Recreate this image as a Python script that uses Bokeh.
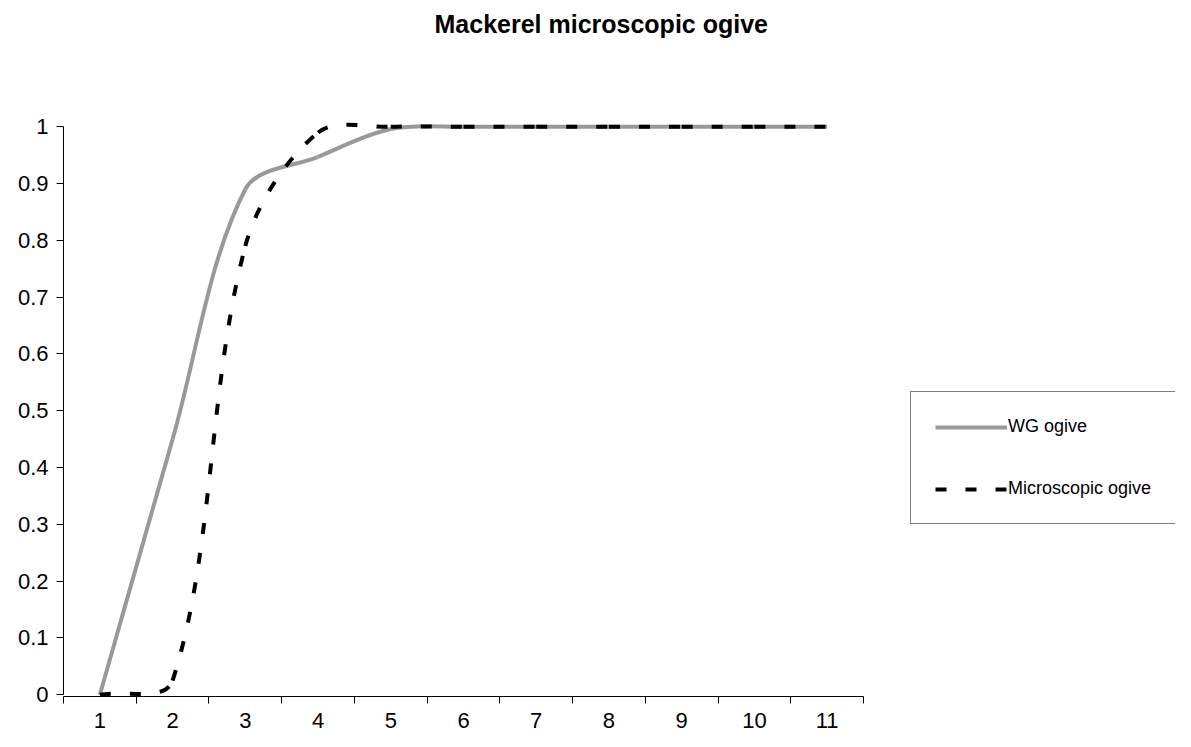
import math
from bokeh.plotting import figure
from bokeh.models import FixedTicker, Range1d, Legend, LegendItem, ColumnDataSource
from bokeh.embed import file_html
from bokeh.resources import INLINE

# ---------------- data ----------------
categories = [1, 2, 3, 4, 5, 6, 7, 8, 9, 10, 11]
wg_ogive = [0.0, 0.45, 0.89, 0.947, 0.996, 1.0, 1.0, 1.0, 1.0, 1.0, 1.0]
micro_ogive = [0.0, 0.025, 0.79, 0.99, 1.0, 1.0, 1.0, 1.0, 1.0, 1.0, 1.0]
y_ticks = [0, 0.1, 0.2, 0.3, 0.4, 0.5, 0.6, 0.7, 0.8, 0.9, 1]
y_tick_labels = ["0", "0.1", "0.2", "0.3", "0.4", "0.5", "0.6", "0.7", "0.8", "0.9", "1"]
title_text = "Mackerel microscopic ogive"
series_names = ["WG ogive", "Microscopic ogive"]

# ---------------- layout ----------------
W, H = 1175, 731
FL, FT = 63, 44                 # frame left / top (canvas px)
FB = 696                        # frame bottom
PX_PER_CAT = 800 / 11.0         # plot-area width of the Excel chart / categories
PX_PER_UNIT = 568.0             # px for y from 0 to 1
FW, FH = W - FL, FB - FT
X0 = categories[0] - 0.5
X1 = X0 + FW / PX_PER_CAT
Y0 = -0.003
Y1 = Y0 + FH / PX_PER_UNIT
SX, SY = PX_PER_CAT, PX_PER_UNIT
FONT = "Liberation Sans"


def smooth_segments(xs, ys):
    """Excel-like smoothed line: cubic Bezier pieces computed in screen space."""
    pts = [(x * SX, y * SY) for x, y in zip(xs, ys)]
    n = len(pts)
    out = {k: [] for k in ("x0", "y0", "x1", "y1", "cx0", "cy0", "cx1", "cy1")}
    d = lambda a, b: math.hypot(b[0] - a[0], b[1] - a[1])
    for i in range(n - 1):
        p1, p2 = pts[i], pts[i + 1]
        p0 = pts[i - 1] if i > 0 else p1
        p3 = pts[i + 2] if i + 2 < n else p2
        d01, d12, d23 = d(p0, p1), d(p1, p2), d(p2, p3)
        f1 = d12 / (d01 + d12) / 3.0 if d01 + d12 > 0 else 0
        f2 = d12 / (d12 + d23) / 3.0 if d12 + d23 > 0 else 0
        c1 = (p1[0] + (p2[0] - p0[0]) * f1, p1[1] + (p2[1] - p0[1]) * f1)
        c2 = (p2[0] - (p3[0] - p1[0]) * f2, p2[1] - (p3[1] - p1[1]) * f2)
        out["x0"].append(p1[0] / SX); out["y0"].append(p1[1] / SY)
        out["x1"].append(p2[0] / SX); out["y1"].append(p2[1] / SY)
        out["cx0"].append(c1[0] / SX); out["cy0"].append(c1[1] / SY)
        out["cx1"].append(c2[0] / SX); out["cy1"].append(c2[1] / SY)
    return ColumnDataSource(out)


p = figure(width=W, height=H, output_backend="svg", toolbar_location=None,
           x_range=Range1d(X0, X1), y_range=Range1d(Y0, Y1),
           min_border_left=FL, min_border_right=0,
           min_border_top=FT, min_border_bottom=H - FB)
p.outline_line_color = None
p.xgrid.visible = False
p.ygrid.visible = False
p.background_fill_color = "white"
p.border_fill_color = "white"

# title
p.title.text = title_text
p.title.text_font = FONT
p.title.text_font_style = "bold"
p.title.text_font_size = "25px"
p.title.text_color = "black"
p.title.align = "left"
p.title.offset = 371
p.title.vertical_align = "top"
p.title.standoff = 10

# x axis (category axis, ticks between categories)
xa = p.xaxis[0]
xa.ticker = FixedTicker(ticks=categories,
                        minor_ticks=[c - 0.5 for c in categories] + [categories[-1] + 0.5])
xa.major_label_overrides = {c: str(c) for c in categories}
xa.bounds = (categories[0] - 0.5, categories[-1] + 0.5)
xa.major_tick_out = 0
xa.major_tick_in = 0
xa.minor_tick_out = 7
xa.minor_tick_in = 0
xa.minor_tick_line_color = "black"
xa.axis_line_color = "black"
xa.major_label_standoff = 9
xa.major_label_text_font = FONT
xa.major_label_text_font_size = "22px"
xa.major_label_text_color = "black"

# y axis
ya = p.yaxis[0]
ya.ticker = FixedTicker(ticks=y_ticks)
ya.major_label_overrides = {t: l for t, l in zip(y_ticks, y_tick_labels)}
ya.bounds = (0, 1)
ya.major_tick_out = 7
ya.major_tick_in = 0
ya.minor_tick_out = 0
ya.minor_tick_in = 0
ya.major_tick_line_color = "black"
ya.axis_line_color = "black"
ya.major_label_standoff = 8
ya.major_label_text_font = FONT
ya.major_label_text_font_size = "22px"
ya.major_label_text_color = "black"

WG_COLOR = "#999999"
MI_COLOR = "black"
DASH = "11 19"

wg_r = p.bezier(x0="x0", y0="y0", x1="x1", y1="y1", cx0="cx0", cy0="cy0", cx1="cx1", cy1="cy1",
                source=smooth_segments(categories, wg_ogive), line_color=WG_COLOR, line_width=4)
mi_r = p.bezier(x0="x0", y0="y0", x1="x1", y1="y1", cx0="cx0", cy0="cy0", cx1="cx1", cy1="cy1",
                source=smooth_segments(categories, micro_ogive), line_color=MI_COLOR, line_width=4,
                line_dash=DASH)

legend = Legend(items=[LegendItem(label=series_names[0], renderers=[wg_r], index=0),
                       LegendItem(label=series_names[1], renderers=[mi_r], index=0)],
                location=(847, 172), orientation="vertical", padding=24, spacing=41,
                glyph_width=72, glyph_height=20, label_height=20, label_width=220,
                label_standoff=1, margin=0, border_line_color="black", border_line_width=1,
                label_text_font=FONT, label_text_font_size="18px", label_text_color="black",
                background_fill_color="white", background_fill_alpha=1.0)
p.add_layout(legend)

open("out.html", "w").write(file_html(p, INLINE))
